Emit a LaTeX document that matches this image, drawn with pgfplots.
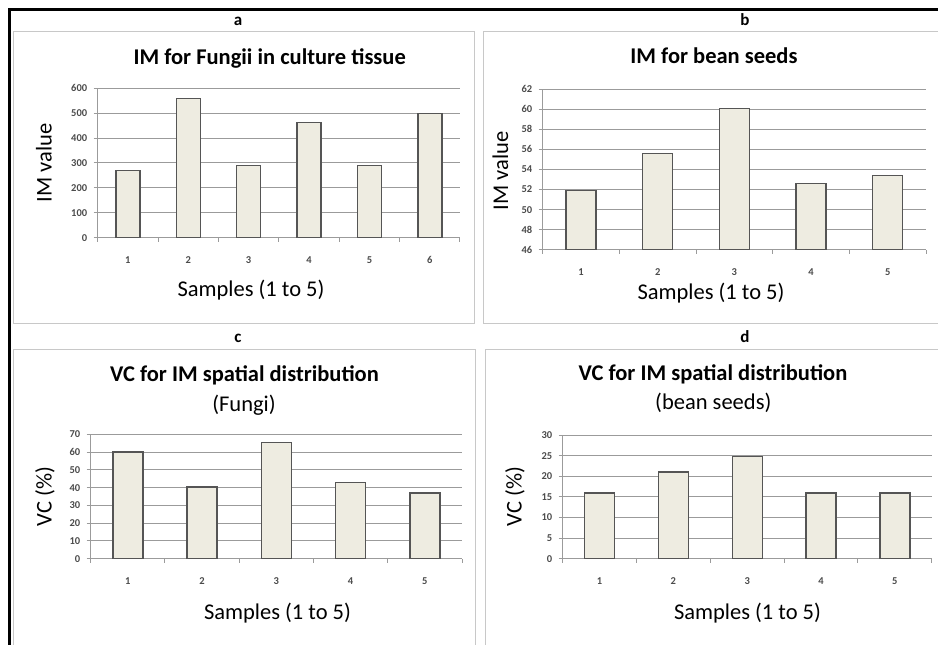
\documentclass[border=0pt]{standalone}
\usepackage{fontspec}
\setmainfont{Carlito}
\usepackage{pgfplots}
\pgfplotsset{compat=1.18}

\definecolor{barfill}{RGB}{238,236,225}
\definecolor{baredge}{RGB}{85,85,85}
\definecolor{gridc}{RGB}{155,155,155}
\definecolor{boxc}{RGB}{200,200,200}
\definecolor{tickc}{RGB}{75,75,75}

\pgfplotsset{
  excelbar/.style={
    scale only axis,
    anchor=south west,
    axis x line=bottom,
    axis y line=left,
    axis line style={gridc, line width=1pt, -},
    ymajorgrids,
    grid style={gridc, line width=1pt},
    tick style={gridc, line width=1pt},
    tick align=outside,
    major tick length=4pt,
    minor tick length=4pt,
    major x tick style={draw=none},
    /pgf/number format/assume math mode=true,
    tick label style={font=\bfseries\fontsize{10.5}{11}\selectfont, text=tickc},
    xticklabel style={yshift=-11pt},
    yticklabel style={xshift=-3pt},
    clip=true,
  },
  samplebar/.style={ybar, fill=barfill, draw=baredge, line width=1.4pt},
}

\newcommand{\titlefont}{\bfseries\fontsize{22.5}{24}\selectfont}
\newcommand{\labelfont}{\fontsize{22.5}{24}\selectfont}
\newcommand{\panelfont}{\bfseries\fontsize{17}{18}\selectfont}

\begin{document}
\begin{tikzpicture}
\useasboundingbox (0pt,0pt) rectangle (938pt,645pt);

\begin{scope}[x=1pt,y=1pt]
  % panel frames
  \draw[boxc, line width=1.2pt] (13.5,613.5) rectangle (474.3,321.7);
  \draw[boxc, line width=1.2pt] (483.3,613.5) rectangle (950,321.7);
  \draw[boxc, line width=1.2pt] (13.5,295.7) rectangle (475.7,-10);
  \draw[boxc, line width=1.2pt] (485.7,295.7) rectangle (950,-10);
  % outer rule
  \draw[black, line width=3pt] (9.5,-5) -- (9.5,635.5) -- (945,635.5);

  % panel letters
  \node[anchor=base, font=\panelfont] at (238,619.5) {a};
  \node[anchor=base, font=\panelfont] at (745,619.5) {b};
  \node[anchor=base, font=\panelfont] at (238,302.5) {c};
  \node[anchor=base, font=\panelfont] at (745,302.5) {d};

  % titles
  \node[anchor=base, font=\titlefont] at (269.7,580) {IM for Fungii in culture tissue};
  \node[anchor=base, font=\titlefont] at (714,581) {IM for bean seeds};
  \node[anchor=base, font=\titlefont] at (244.5,263.3) {VC for IM spatial distribution};
  \node[anchor=base, font=\labelfont] at (244,233) {(Fungi)};
  \node[anchor=base, font=\titlefont] at (713,264) {VC for IM spatial distribution};
  \node[anchor=base, font=\labelfont] at (713.3,235) {(bean seeds)};

  % x axis labels
  \node[anchor=base, font=\labelfont] at (251,348) {Samples (1 to 5)};
  \node[anchor=base, font=\labelfont] at (711,345) {Samples (1 to 5)};
  \node[anchor=base, font=\labelfont] at (277.5,25) {Samples (1 to 5)};
  \node[anchor=base, font=\labelfont] at (747.5,25) {Samples (1 to 5)};

  % y axis labels
  \node[anchor=base, rotate=90, font=\labelfont] at (51.7,482) {IM value};
  \node[anchor=base, rotate=90, font=\labelfont] at (508,474.2) {IM value};
  \node[anchor=base, rotate=90, font=\labelfont] at (51.7,148.3) {VC (\%)};
  \node[anchor=base, rotate=90, font=\labelfont] at (521.7,148.3) {VC (\%)};
\end{scope}

% a: IM for fungi
\begin{axis}[excelbar,
  at={(97.7pt,407.3pt)}, width=362.3pt, height=149.4pt,
  xmin=0.5, xmax=6.5, ymin=0, ymax=600,
  xtick={1,2,3,4,5,6}, minor xtick={0.5,1.5,...,6.5},
  ytick={0,100,...,600}]
  \addplot[samplebar, bar width=24pt] coordinates {
    (1,270) (2,558) (3,290) (4,462) (5,290) (6,498)};
\end{axis}

% b: IM for bean seeds
\begin{axis}[excelbar,
  at={(542.7pt,395.3pt)}, width=383.3pt, height=160.4pt,
  xmin=0.5, xmax=5.5, ymin=46, ymax=62,
  xtick={1,2,3,4,5}, minor xtick={0.5,1.5,...,5.5},
  ytick={46,48,...,62}]
  \addplot[samplebar, bar width=30pt] coordinates {
    (1,51.9) (2,55.6) (3,60.1) (4,52.6) (5,53.4)};
\end{axis}

% c: VC for fungi
\begin{axis}[excelbar,
  at={(90.7pt,86.3pt)}, width=371.3pt, height=124.4pt,
  xmin=0.5, xmax=5.5, ymin=0, ymax=70,
  xtick={1,2,3,4,5}, minor xtick={0.5,1.5,...,5.5},
  ytick={0,10,...,70}]
  \addplot[samplebar, bar width=30pt] coordinates {
    (1,60) (2,40.3) (3,65.5) (4,42.8) (5,37)};
\end{axis}

% d: VC for bean seeds
\begin{axis}[excelbar,
  at={(562.7pt,86.3pt)}, width=369pt, height=123.4pt,
  xmin=0.5, xmax=5.5, ymin=0, ymax=30,
  xtick={1,2,3,4,5}, minor xtick={0.5,1.5,...,5.5},
  ytick={0,5,...,30}]
  \addplot[samplebar, bar width=30pt] coordinates {
    (1,16) (2,21.1) (3,24.9) (4,16) (5,16)};
\end{axis}
\end{tikzpicture}
\end{document}
